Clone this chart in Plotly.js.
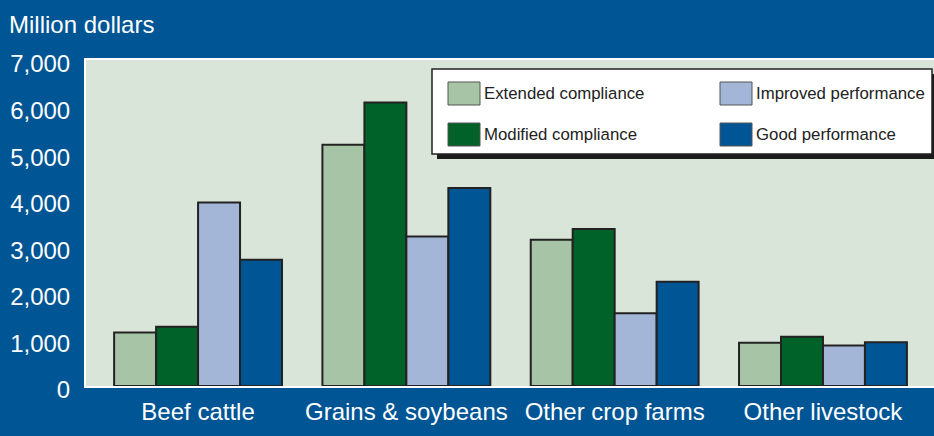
<!DOCTYPE html>
<html>
<head>
<meta charset="utf-8">
<script src="https://cdn.plot.ly/plotly-3.0.1.min.js"></script>
<style>html,body{margin:0;padding:0;background:#005595;}#chart{width:934px;height:436px;}</style>
</head>
<body>
<div id="chart"></div>
<script>
// ---- Data ----
const categories = ["Beef cattle", "Grains & soybeans", "Other crop farms", "Other livestock"];
const seriesNames = ["Extended compliance", "Modified compliance", "Improved performance", "Good performance"];
const extendedCompliance = [1150, 5180, 3140, 930];
const modifiedCompliance = [1270, 6090, 3370, 1060];
const improvedPerformance = [3940, 3210, 1560, 870];
const goodPerformance = [2710, 4250, 2240, 940];
const yTickValues = [0, 1000, 2000, 3000, 4000, 5000, 6000, 7000];
const yAxisLabel = "Million dollars";

// ---- Styles ----
const colors = ["#a8c4a7", "#006129", "#a4b6d7", "#005595"];
const seriesValues = [extendedCompliance, modifiedCompliance, improvedPerformance, goodPerformance];
const FONT = '"Liberation Sans", Arial, Helvetica, sans-serif';

// layout geometry (pixels)
const W = 934, H = 436, L = 86, R = 0, T = 60, B = 50;
const pw = W - L - R, ph = H - T - B;
const px = x => (x - L) / pw;
const py = y => (H - B - y) / ph;

const traces = seriesValues.map((vals, i) => ({
  type: "bar",
  name: seriesNames[i],
  x: categories,
  y: vals,
  marker: { color: colors[i], line: { color: "#222222", width: 2 } },
  showlegend: false,
  hoverinfo: "x+y+name"
}));

// custom legend (2 columns x 2 rows)
const legendOrder = [[0, 2], [1, 3]]; // rows: [col1, col2]
const colSwatchX = [448, 720];
const rowY = [82, 123];
const swW = 32, swH = 23;
const shapes = [
  { type: "rect", xref: "paper", yref: "paper", x0: px(437), x1: px(940), y0: py(159), y1: py(74),
    fillcolor: "#1c1c1c", line: { width: 0 }, layer: "above" },
  { type: "rect", xref: "paper", yref: "paper", x0: px(432), x1: px(932), y0: py(154), y1: py(69),
    fillcolor: "#ffffff", line: { color: "#222222", width: 1.5 }, layer: "above" }
];
const annotations = [
  { text: yAxisLabel, xref: "paper", yref: "paper", x: px(7), y: py(25), xanchor: "left", yanchor: "middle",
    showarrow: false, font: { family: FONT, size: 24, color: "#ffffff" } }
];
legendOrder.forEach((row, r) => {
  row.forEach((si, c) => {
    shapes.push({ type: "rect", xref: "paper", yref: "paper",
      x0: px(colSwatchX[c]), x1: px(colSwatchX[c] + swW), y0: py(rowY[r] + swH), y1: py(rowY[r]),
      fillcolor: colors[si], line: { color: "#555555", width: 1 }, layer: "above" });
    annotations.push({ text: seriesNames[si], xref: "paper", yref: "paper",
      x: px(colSwatchX[c] + swW + 2), y: py(rowY[r] + swH / 2), xanchor: "left", yanchor: "middle",
      showarrow: false, font: { family: FONT, size: 16.8, color: "#222222" } });
  });
});

const layout = {
  width: W, height: H,
  margin: { l: L, r: R, t: T, b: B, pad: 0 },
  paper_bgcolor: "#005595",
  plot_bgcolor: "#dae5da",
  font: { family: FONT, color: "#ffffff" },
  barmode: "group",
  bargap: 0.194,
  bargroupgap: 0,
  xaxis: {
    type: "category",
    range: [-0.538, 3.533],
    showgrid: false, zeroline: false,
    showline: true, linecolor: "#ffffff", linewidth: 2, mirror: true,
    layer: "below traces",
    ticks: "", ticklabelstandoff: 3,
    tickfont: { family: FONT, size: 24, color: "#ffffff" },
    fixedrange: true
  },
  yaxis: {
    range: [0, 7000],
    tickvals: yTickValues,
    tickformat: ",d",
    showgrid: false, zeroline: false,
    showline: true, linecolor: "#ffffff", linewidth: 2, mirror: true,
    layer: "below traces",
    ticks: "", ticklabelstandoff: 9, ticklabelshift: 4,
    tickfont: { family: FONT, size: 24, color: "#ffffff" },
    fixedrange: true
  },
  shapes: shapes,
  annotations: annotations,
  showlegend: false
};

Plotly.newPlot("chart", traces, layout, { displayModeBar: false, staticPlot: true });
</script>
</body>
</html>
